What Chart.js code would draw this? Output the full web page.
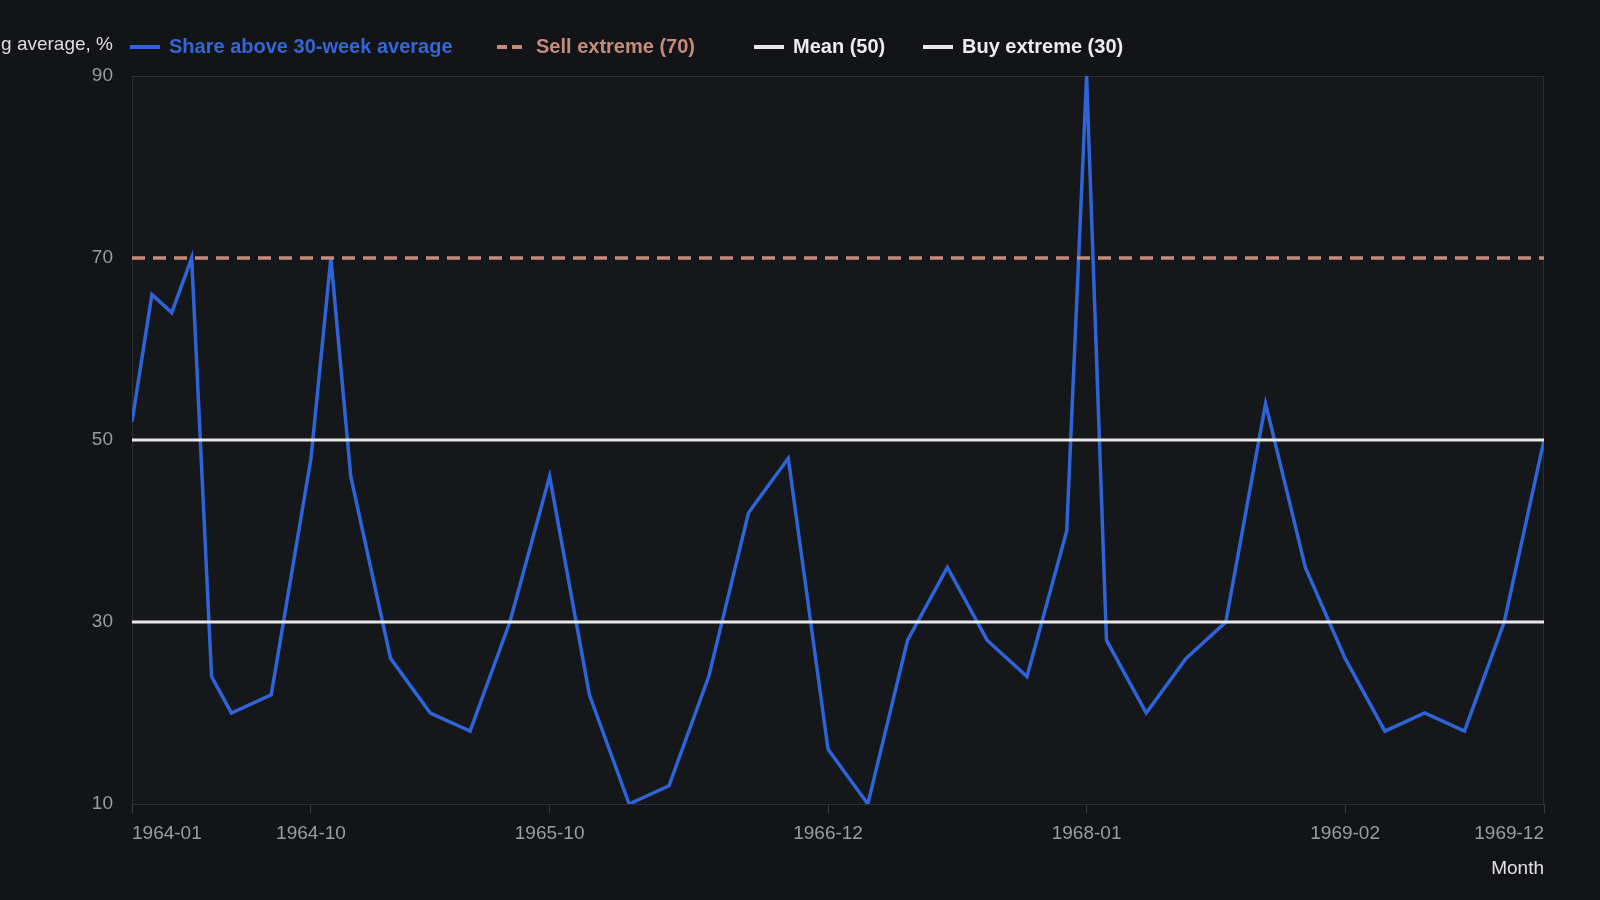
<!DOCTYPE html>
<html>
<head>
<meta charset="utf-8">
<title>Share above 30-week average</title>
<script src="https://cdn.jsdelivr.net/npm/chart.js@4.4.1/dist/chart.umd.min.js"></script>
<style>
    html, body { margin: 0; padding: 0; background: #131418; }
    #wrap { width: 1600px; height: 900px; }
</style>
</head>
<body>
<div id="wrap"><canvas id="breadthChart" width="1600" height="900"></canvas></div>
<script>
// month of each reading
const months = [
    '1964-01', '1964-02', '1964-03', '1964-04', '1964-05', '1964-06', '1964-08', '1964-10', '1964-11', '1964-12',
    '1965-02', '1965-04', '1965-06', '1965-08', '1965-10', '1965-12',
    '1966-02', '1966-04', '1966-06', '1966-08', '1966-10', '1966-12',
    '1967-02', '1967-04', '1967-06', '1967-08', '1967-10', '1967-12',
    '1968-01', '1968-02', '1968-04', '1968-06', '1968-08', '1968-10', '1968-12',
    '1969-02', '1969-04', '1969-06', '1969-08', '1969-10', '1969-12'
];

// share of stocks above their 30-week average, %
const shareAbove = [
    52, 66, 64, 70, 24, 20, 22, 48, 70, 46,
    26, 20, 18, 30, 46, 22,
    10, 12, 24, 42, 48, 16,
    10, 28, 36, 28, 24, 40,
    90, 28, 20, 26, 30, 54, 36,
    26, 18, 20, 18, 30, 50
];

// reference levels
const sellExtreme = 70;
const meanLevel = 50;
const buyExtreme = 30;

// axis ticks
const xTickMonths = ['1964-01', '1964-10', '1965-10', '1966-12', '1968-01', '1969-02', '1969-12'];
const yTickValues = [10, 30, 50, 70, 90];

const yTitle = 'Share above 30-week moving average, %';
const xTitle = 'Month';

// months counted from the first reading
const baseYear = Number(months[0].split('-')[0]);
function monthIndex(m) {
    const parts = m.split('-').map(Number);
    return (parts[0] - baseYear) * 12 + parts[1] - 1;
}

const firstX = monthIndex(months[0]);
const lastX = monthIndex(months[months.length - 1]);

function flatLine(level) {
    return [{ x: firstX, y: level }, { x: lastX, y: level }];
}

const tickColor = '#9a9ca2';
const fontFamily = '"Liberation Sans", Arial, sans-serif';

// plot background, frame, y title and legend
const frameAndLegend = {
    id: 'frameAndLegend',
    beforeDatasetsDraw(chart) {
        const { ctx, chartArea: a } = chart;
        ctx.save();
        ctx.fillStyle = '#16171b';
        ctx.fillRect(a.left, a.top, a.right - a.left, a.bottom - a.top);
        ctx.strokeStyle = '#2d2f34';
        ctx.lineWidth = 1;
        ctx.strokeRect(a.left + 0.5, a.top + 0.5, a.right - a.left - 1, a.bottom - a.top);
        ctx.restore();
    },
    afterDraw(chart) {
        const { ctx } = chart;
        ctx.save();

        ctx.font = '19px ' + fontFamily;
        ctx.fillStyle = '#dedede';
        ctx.textAlign = 'right';
        ctx.textBaseline = 'middle';
        ctx.fillText(yTitle, 113, 45);

        const itemX = [130, 497, 754, 923];
        const y = 47;
        ctx.font = 'bold 20px ' + fontFamily;
        ctx.textAlign = 'left';
        chart.data.datasets.forEach((ds, i) => {
            const x = itemX[i];
            ctx.strokeStyle = ds.borderColor;
            ctx.lineWidth = 4;
            ctx.lineCap = 'butt';
            ctx.setLineDash(ds.borderDash && ds.borderDash.length ? [10, 5] : []);
            ctx.beginPath();
            ctx.moveTo(x, y);
            ctx.lineTo(x + 30, y);
            ctx.stroke();
            ctx.setLineDash([]);
            ctx.fillStyle = ds.legendColor;
            ctx.fillText(ds.label, x + 39, y);
        });
        ctx.restore();
    }
};

const breadthConfig = {
    type: 'line',
    data: {
        datasets: [
            {
                label: 'Share above 30-week average',
                data: months.map((m, i) => ({ x: monthIndex(m), y: shareAbove[i] })),
                borderColor: '#2f64d8',
                legendColor: '#3467d6',
                borderWidth: 3.5,
                pointRadius: 0,
                tension: 0,
                order: 3
            },
            {
                label: 'Sell extreme (' + sellExtreme + ')',
                data: flatLine(sellExtreme),
                borderColor: '#c58c79',
                legendColor: '#c68c7b',
                borderWidth: 3.5,
                borderDash: [13, 8],
                pointRadius: 0,
                order: 2
            },
            {
                label: 'Mean (' + meanLevel + ')',
                data: flatLine(meanLevel),
                borderColor: '#e8e8e8',
                legendColor: '#ececec',
                borderWidth: 3,
                pointRadius: 0,
                order: 1
            },
            {
                label: 'Buy extreme (' + buyExtreme + ')',
                data: flatLine(buyExtreme),
                borderColor: '#e8e8e8',
                legendColor: '#ececec',
                borderWidth: 3,
                pointRadius: 0,
                order: 0
            }
        ]
    },
    options: {
        responsive: false,
        animation: false,
        devicePixelRatio: 1,
        layout: { padding: { top: 76, right: 56, bottom: 0, left: 0 } },
        plugins: {
            legend: { display: false },
            tooltip: { enabled: false }
        },
        scales: {
            x: {
                type: 'linear',
                min: firstX,
                max: lastX,
                afterBuildTicks(scale) {
                    scale.ticks = xTickMonths.map(m => ({ value: monthIndex(m) }));
                },
                afterFit(scale) { scale.height = 96; },
                ticks: {
                    autoSkip: false,
                    maxRotation: 0,
                    align: 'inner',
                    padding: 9,
                    color: tickColor,
                    font: { family: fontFamily, size: 19 },
                    callback: (value, index) => xTickMonths[index]
                },
                grid: {
                    drawOnChartArea: false,
                    drawTicks: true,
                    tickLength: 9,
                    color: '#3a3c41'
                },
                border: { display: true, color: '#34363b', width: 1 },
                title: {
                    display: true,
                    text: xTitle,
                    align: 'end',
                    color: '#e2e2e2',
                    font: { family: fontFamily, size: 19 },
                    padding: { top: 0, bottom: 20 }
                }
            },
            y: {
                min: yTickValues[0],
                max: yTickValues[yTickValues.length - 1],
                afterBuildTicks(scale) {
                    scale.ticks = yTickValues.map(v => ({ value: v }));
                },
                afterFit(scale) { scale.width = 132; },
                ticks: {
                    padding: 19,
                    color: tickColor,
                    font: { family: fontFamily, size: 19 }
                },
                grid: { drawOnChartArea: false, drawTicks: false },
                border: { display: true, color: '#34363b', width: 1 }
            }
        }
    },
    plugins: [frameAndLegend]
};

var breadthChart = new Chart(document.getElementById('breadthChart'), breadthConfig);
</script>
</body>
</html>
